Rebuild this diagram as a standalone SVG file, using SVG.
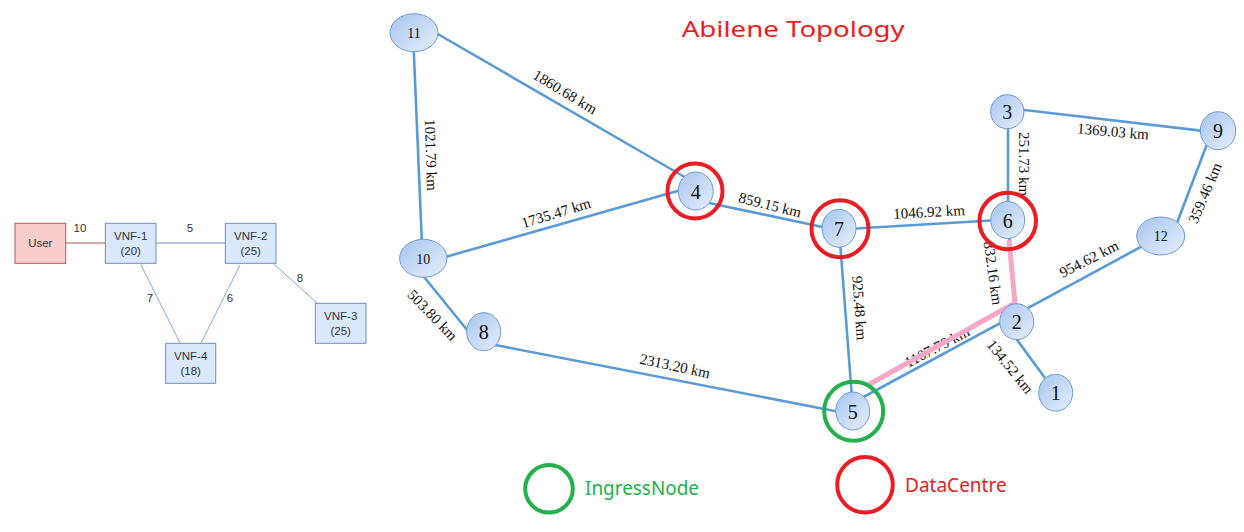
<svg xmlns="http://www.w3.org/2000/svg" width="1244" height="532" viewBox="0 0 1244 532">
<defs>
<linearGradient id="ng" x1="0" y1="0" x2="1" y2="1">
<stop offset="0" stop-color="#a7c5ef"/>
<stop offset="1" stop-color="#e6effc"/>
</linearGradient>
<style>
.bg{fill:#ffffff}
.box{fill:#dae8fc;stroke:#6c8ebf;stroke-width:1}
.ubox{fill:#f8cecc;stroke:#b85450;stroke-width:1}
.bt{font-family:"Liberation Sans",Arial,sans-serif;font-size:11.5px;fill:#333333;text-anchor:middle}
.e{stroke:#5b9bd5;stroke-width:2.6;fill:none;stroke-linecap:round}
.el{font-family:"Liberation Serif","Times New Roman",serif;font-size:15px;fill:#111111;text-anchor:middle;dominant-baseline:central}
.n{fill:url(#ng);stroke:#6f9bd2;stroke-width:1}
.nt{font-family:"Liberation Serif","Times New Roman",serif;fill:#111111;text-anchor:middle;dominant-baseline:central}
.dc{fill:none;stroke:#ed1c24;stroke-width:4}
.ig{fill:none;stroke:#22b14c;stroke-width:4}
.lg{font-family:"Noto Sans","Open Sans",sans-serif;font-size:19px}
</style>
</defs>
<rect class="bg" x="0" y="0" width="1244" height="532"/>

<!-- Left VNF graph connectors -->
<g id="vnf-connectors">
<line x1="65.7" y1="243" x2="105.3" y2="243" stroke="#b85450" stroke-width="1"/>
<line x1="156" y1="243" x2="225.3" y2="243" stroke="#6c8ebf" stroke-width="1"/>
<line x1="274" y1="264" x2="316.7" y2="302.7" stroke="#7ea6e0" stroke-width="1"/>
<line x1="141" y1="265" x2="180" y2="343" stroke="#7ea6e0" stroke-width="1"/>
<line x1="240" y1="265" x2="201" y2="343" stroke="#7ea6e0" stroke-width="1"/>
<text class="bt" x="80" y="232">10</text>
<text class="bt" x="190" y="232">5</text>
<text class="bt" x="300" y="282">8</text>
<text class="bt" x="150" y="302">7</text>
<text class="bt" x="230" y="302">6</text>
</g>
<g id="user">
<rect class="ubox" x="15" y="223.3" width="50.7" height="40"/>
<text class="bt" x="40.3" y="247.3">User</text>
</g>
<g id="vnf1">
<rect class="box" x="105.3" y="223.3" width="50.7" height="40"/>
<text class="bt" x="130.7" y="240">VNF-1</text>
<text class="bt" x="130.7" y="255">(20)</text>
</g>
<g id="vnf2">
<rect class="box" x="225.3" y="223.3" width="50.7" height="40"/>
<text class="bt" x="250.7" y="240">VNF-2</text>
<text class="bt" x="250.7" y="255">(25)</text>
</g>
<g id="vnf3">
<rect class="box" x="315.3" y="303.3" width="50.7" height="40"/>
<text class="bt" x="340.7" y="320">VNF-3</text>
<text class="bt" x="340.7" y="335">(25)</text>
</g>
<g id="vnf4">
<rect class="box" x="165.7" y="343.3" width="50" height="40"/>
<text class="bt" x="190.7" y="360">VNF-4</text>
<text class="bt" x="190.7" y="375">(18)</text>
</g>

<!-- Abilene connectors -->
<g id="connectors">
<line class="e" x1="413.5" y1="45" x2="422" y2="245"/>
<line class="e" x1="436" y1="33" x2="695" y2="183"/>
<line class="e" x1="440" y1="258.5" x2="695" y2="186"/>
<line class="e" x1="420" y1="272" x2="472" y2="336"/>
<line class="e" x1="490" y1="344" x2="850" y2="414"/>
<line class="e" x1="695" y1="200" x2="839" y2="230.5"/>
<line class="e" x1="839" y1="229.5" x2="1008" y2="219.5"/>
<line class="e" x1="839" y1="228" x2="853" y2="411"/>
<line class="e" x1="1008" y1="112" x2="1008" y2="220"/>
<line class="e" x1="1007" y1="108" x2="1218" y2="132.6"/>
<line class="e" x1="1212" y1="131" x2="1172" y2="236"/>
<line class="e" x1="1161" y1="236" x2="858" y2="400"/>
<line class="e" x1="1056" y1="393" x2="1012" y2="333"/>
<line class="e" x1="1008" y1="220" x2="1016" y2="322"/>

<text class="el" transform="translate(431,155) rotate(88)">1021.79 km</text>
<text class="el" transform="translate(565,92) rotate(31)">1860.68 km</text>
<text class="el" transform="translate(556,213) rotate(-17)">1735.47 km</text>
<text class="el" transform="translate(432.5,315) rotate(46)">503.80 km</text>
<text class="el" transform="translate(675,366) rotate(12)">2313.20 km</text>
<text class="el" transform="translate(770,205) rotate(14)">859.15 km</text>
<text class="el" transform="translate(929,212) rotate(-3)">1046.92 km</text>
<text class="el" transform="translate(859.5,308) rotate(86)">925.48 km</text>
<text class="el" transform="translate(1024,164) rotate(90)">251.73 km</text>
<text class="el" transform="translate(1113,131.5) rotate(5)">1369.03 km</text>
<text class="el" transform="translate(1205,193) rotate(-67)">359.46 km</text>
<text class="el" transform="translate(1089,259) rotate(-27)">954.62 km</text>
<text class="el" transform="translate(993,273) rotate(82)">832.16 km</text>
<text class="el" transform="translate(937,347) rotate(-28)">1107.79 km</text>
<text class="el" transform="translate(1010,366.7) rotate(51)">134.52 km</text>

<polyline points="1009,240 1015,303 868,385" fill="none" stroke="#f7a8c6" stroke-width="5" stroke-linejoin="round"/>
</g>

<!-- Nodes -->
<g id="node-11"><ellipse class="n" cx="414" cy="32.7" rx="24" ry="19"/><text class="nt" x="414" y="33" font-size="14">11</text></g>
<g id="node-10"><ellipse class="n" cx="423.3" cy="258.3" rx="23.7" ry="19"/><text class="nt" x="423.3" y="259" font-size="14">10</text></g>
<g id="node-8"><ellipse class="n" cx="483.7" cy="331.7" rx="17" ry="19"/><text class="nt" x="483.7" y="332" font-size="20">8</text></g>
<g id="node-4"><ellipse class="n" cx="695.7" cy="191" rx="17.5" ry="19"/><text class="nt" x="695.7" y="191.5" font-size="20">4</text></g>
<g id="node-7"><ellipse class="n" cx="839" cy="228.3" rx="17" ry="19"/><text class="nt" x="839" y="229" font-size="20">7</text></g>
<g id="node-6"><ellipse class="n" cx="1007.7" cy="220" rx="17" ry="18.5"/><text class="nt" x="1007.7" y="220.5" font-size="20">6</text></g>
<g id="node-3"><ellipse class="n" cx="1007.3" cy="111.7" rx="16.7" ry="17"/><text class="nt" x="1007.3" y="112" font-size="20">3</text></g>
<g id="node-9"><ellipse class="n" cx="1218" cy="130.7" rx="17.7" ry="19"/><text class="nt" x="1218" y="131" font-size="20">9</text></g>
<g id="node-12"><ellipse class="n" cx="1160.7" cy="236" rx="24" ry="19"/><text class="nt" x="1160.7" y="236.5" font-size="14">12</text></g>
<g id="node-2"><ellipse class="n" cx="1016.7" cy="321.7" rx="17" ry="18"/><text class="nt" x="1016.7" y="322" font-size="20">2</text></g>
<g id="node-1"><ellipse class="n" cx="1055.7" cy="392.7" rx="17" ry="18.5"/><text class="nt" x="1055.7" y="393" font-size="20">1</text></g>
<g id="node-5"><ellipse class="n" cx="852.7" cy="411" rx="17" ry="19"/><text class="nt" x="852.7" y="411.5" font-size="20">5</text></g>

<!-- Rings -->
<g id="rings">
<circle class="dc" cx="695" cy="191" r="27.5"/>
<circle class="dc" cx="840" cy="228.7" r="28.5"/>
<circle class="dc" cx="1007.7" cy="221" r="28.3"/>
<circle class="ig" cx="853.7" cy="411.2" r="29.5"/>
</g>

<!-- Title and legend -->
<g id="title">
<text x="681.7" y="37.3" font-family="'Noto Sans','Open Sans',sans-serif" font-size="22" fill="#ed1c24" textLength="223" lengthAdjust="spacingAndGlyphs">Abilene Topology</text>
</g>
<g id="legend-ingress">
<circle class="ig" cx="549" cy="488.8" r="23.8"/>
<text class="lg" x="585" y="495" fill="#22b14c" textLength="114" lengthAdjust="spacingAndGlyphs">IngressNode</text>
</g>
<g id="legend-dc">
<circle class="dc" cx="865" cy="484.7" r="27.8"/>
<text class="lg" x="905" y="491.7" fill="#ed1c24" textLength="101.7" lengthAdjust="spacingAndGlyphs">DataCentre</text>
</g>
</svg>
